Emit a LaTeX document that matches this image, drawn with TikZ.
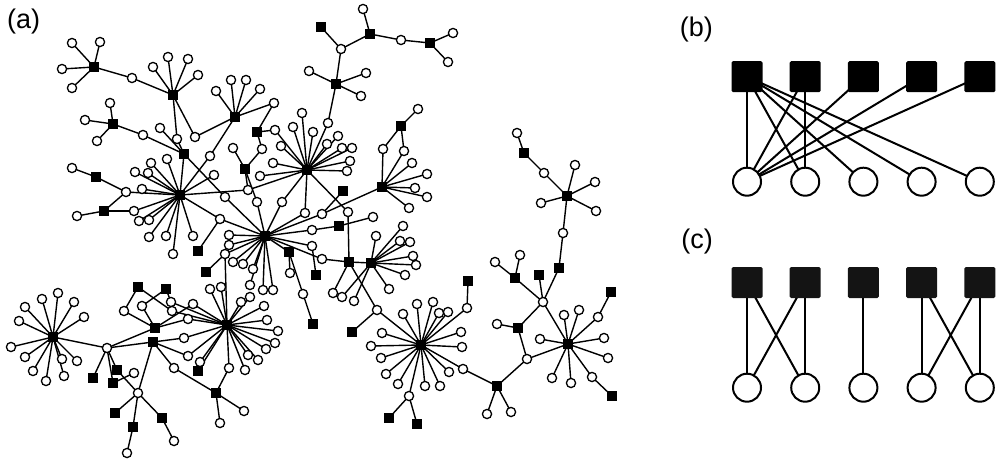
\documentclass[tikz,border=0pt]{standalone}
\usepackage{fontspec}
\setmainfont{Liberation Sans}
\usetikzlibrary{backgrounds}
\tikzset{
 cn/.style={circle,draw,fill=white,line width=1.3pt,minimum size=9.2pt,inner sep=0pt},
 sn/.style={rectangle,fill=black,minimum size=10.5pt,inner sep=0pt},
 ed/.style={line width=1.4pt},
 bsq/.style={rectangle,fill=black,minimum size=31pt,inner sep=0pt,rounded corners=1.5pt},
 csq/.style={rectangle,fill=black!92,minimum size=31pt,inner sep=0pt,rounded corners=1.5pt},
 bci/.style={circle,draw,fill=white,line width=2pt,minimum size=28pt,inner sep=0pt},
 bed/.style={line width=2pt},
 lab/.style={font=\fontsize{27}{27}\selectfont,inner sep=0pt}
}
\newcommand\mkleaves[3]{%
  \foreach \lx/\ly [count=\li] in {#3} {%
    \node[cn] (#2\li) at (\lx,\ly) {};%
    \begin{scope}[on background layer]\draw[ed] (#1.center) -- (#2\li.center);\end{scope}%
  }}
\begin{document}
\begin{tikzpicture}[x=1pt,y=-1pt]
\useasboundingbox (0,0) rectangle (1000,463);
% labels
\node[lab,anchor=west] (la) at (7,22) {(a)};
\node[lab,anchor=east] (lb) at (713,30) {(b)};
\node[lab,anchor=east] (lc) at (713,242) {(c)};
% ---------- panel (a): squares ----------
\foreach \n/\x/\y in {sA1/94/67, sA2/173/95, sB/113/124, sC/184/154, H2/235/117, sD/257/132, sE/245/169, H1/180/195, sF/96/177, sG/104/211, sH/198/251, sI/206/272, H3/265/236, sJ/289/252, H4/307/170, sK/321/27, sL/370/34, sM/430/43, sN/336/84, sO/401/126, H5/382/187, sP/343/191, sQ/339/226, sR/349/262, H6/371/263, sS/316/275, sT/313/324, sU/352/332, H7/421/345, sV/468/281, sW/389/418, sX/417/424, sY/497/386, H8/568/344, sZ/518/328, s2/515/278, s3/539/275, s4/559/268, s5/567/196, s6/524/153, s7/611/292, s8/612/396, H9/53/337, s9/93/378, s10/117/370, s11/113/383, H10a/155/328, H10b/153/342, s12/138/287, s13/166/289, H11/227/325, s14/198/371, s15/216/393, s16/115/413, s17/133/427, s18/162/418}
  \node[sn] (\n) at (\x,\y) {};
% ---------- panel (a): linking circles ----------
\foreach \n/\x/\y in {c1/177/139, c2/195/137, c3/143/135, c4/160/128, c5/210/156, c6/225/197, c7/274/103, c8/262/149, c9/275/130, c10/233/148, c11/248/190, c12/257/202, c13/134/211, c14/126/192, c15/220/219, c16/225/254, c17/282/202, c18/305/213, c19/322/214, c20/312/230, c21/312/246, c22/290/273, c23/303/294, c24/322/259, c25/328/123, c26/341/49, c27/401/40, c28/348/212, c29/383/149, c30/404/151, c31/373/217, c32/376/236, c33/333/293, c34/342/297, c35/354/301, c36/377/310, c37/467/308, c38/463/369, c39/409/396, c40/527/359, c41/543/302, c42/563/233, c43/544/173, c44/598/317, c45/592/377, c46/107/348, c47/124/311, c48/142/306, c49/171/302, c50/172/311, c51/193/304, c52/188/319, c53/184/338, c54/188/356, c55/174/368, c56/200/362, c57/229/368, c58/138/393, c59/134/373, cA/132/78}
  \node[cn] (\n) at (\x,\y) {};
% ---------- panel (a): links ----------
\begin{scope}[on background layer]
\foreach \a/\b in {sA1/cA, cA/sA2, sA2/c1, c1/sC, sA2/c2, c2/H2, sB/c3, c3/sC, c4/sC, sC/H1, H2/c5, c5/H1, sC/c6, c6/H3, H2/c7, c7/sD, sD/c8, c8/sE, sD/c9, c9/H4, sE/c10, H1/c11, c11/H4, sE/c11, sE/c12, c12/H3, H1/c13, c13/sG, H1/c14, c14/sF, c14/sG, H1/c15, c15/H3, c15/sH, H3/c16, c16/sI, c16/H11, H3/c17, c17/H4, H3/c18, c18/H4, H3/c19, c19/H5, c19/sP, H3/c20, c20/sQ, H3/c21, c21/sS, H3/sJ, sJ/c22, sJ/c23, c23/sT, H3/c24, c24/sR, H4/c25, c25/sN, sN/c26, c26/sK, c26/sL, sL/c27, c27/sM, H4/c28, c28/sR, sO/c29, c29/H5, sO/c30, c30/H5, sQ/c31, H6/c32, sR/H6, sR/c33, H6/c34, H6/c35, sR/c36, c36/sU, c36/H7, H7/c37, c37/sV, H7/c38, c38/sY, H7/c39, c39/sW, c39/sX, sY/c40, c40/sZ, c40/H8, sZ/c41, c41/s2, c41/s3, c41/s4, c41/H8, s4/c42, c42/s5, s5/c43, c43/s6, H8/c44, c44/s7, H8/c45, c45/s8, H9/c46, c46/s9, c46/s10, c46/s11, c46/H10a, c46/H10b, s12/c47, c47/H10a, s13/c48, c48/H10a, s13/c49, c49/H11, s12/c50, c50/H11, H10a/c51, c51/H11, H10a/c52, c52/H11, H10b/c53, c53/H11, H10b/c54, c54/H11, H10b/c55, c55/s15, s14/c56, c56/H11, s14/H11, H11/c57, c57/s15, H10b/c58, c58/s10, c58/s16, c58/s17, c58/s18, s11/c59}
  \draw[ed] (\a.center) -- (\b.center);
\end{scope}
% ---------- panel (a): leaves ----------
\mkleaves{sA1}{la}{72/43,100/42,62/69,72/88}
\mkleaves{sA2}{lb}{153/67,168/57,188/59,198/75}
\mkleaves{sB}{lc}{110/103,85/120,97/141}
\mkleaves{H2}{ld}{216/91,231/80,246/80,260/89}
\mkleaves{H1}{le}{167/159,151/163,135/172,148/173,142/189,214/175,139/221,149/220,149/237,166/236,193/236,173/254}
\mkleaves{sF}{lf}{72/168}
\mkleaves{sG}{lg}{77/216}
\mkleaves{H3}{lh}{229/235,229/245,233/262,243/264,253/269,263/290,273/290,250/285}
\mkleaves{H4}{li}{302/113,293/127,313/132,338/136,327/144,342/148,352/148,350/161,347/171,281/146,273/163,260/176}
\mkleaves{sN}{lj}{309/71,366/73,361/96}
\mkleaves{sL}{lk}{363/9}
\mkleaves{sM}{ll}{453/33,448/62}
\mkleaves{sO}{lm}{418/109}
\mkleaves{H5}{ln}{412/163,427/174,415/188,427/197,409/208}
\mkleaves{H6}{lo}{403/226,400/241,410/242,413/256,416/265,405/275,389/289}
\mkleaves{H7}{lp}{417/304,433/302,439/313,448/312,403/314,382/333,461/332,371/346,462/347,381/358,386/374,398/384,425/386,440/386,449/372}
\mkleaves{sY}{lq}{487/414,511/412}
\mkleaves{sZ}{lr}{497/324}
\mkleaves{s2}{ls}{495/262,520/255}
\mkleaves{s5}{lt}{575/165,595/182,596/211,541/203}
\mkleaves{s6}{lu}{517/133}
\mkleaves{H8}{lv}{564/315,579/310,604/338,608/358,571/383,552/378,540/339}
\mkleaves{H9}{lw}{11/347,19/321,25/307,42/299,58/293,74/302,84/317,25/357,33/371,46/381,62/359,64/376,77/361}
\mkleaves{s15}{lx}{244/411,220/423}
\mkleaves{s17}{ly}{127/453}
\mkleaves{s18}{lz}{174/441}
\mkleaves{H11}{lA}{210/289,221/287,241/302,250/297,264/306,267/320,278/331,275/343,266/349,258/360,248/355,245/370}
% ---------- panels (b) and (c) ----------
\foreach \i/\x in {1/747,2/805.2,3/863.4,4/921.6,5/979.8} {
  \node[bsq] (bs\i) at (\x,76.7) {};
  \node[bci] (bc\i) at (\x,181.7) {};
  \node[csq] (cs\i) at (\x,282.5) {};
  \node[bci] (cc\i) at (\x,387.7) {};
}
\begin{scope}[on background layer]
\foreach \a/\b in {bs1/bc1, bs1/bc2, bs1/bc3, bs1/bc4, bs1/bc5, bs2/bc1, bs2/bc2, bs3/bc1, bs4/bc1, bs5/bc1,
  cs1/cc1, cs1/cc2, cs2/cc1, cs2/cc2, cs3/cc3, cs4/cc4, cs4/cc5, cs5/cc4, cs5/cc5}
  \draw[bed] (\a.center) -- (\b.center);
\end{scope}
\end{tikzpicture}
\end{document}
